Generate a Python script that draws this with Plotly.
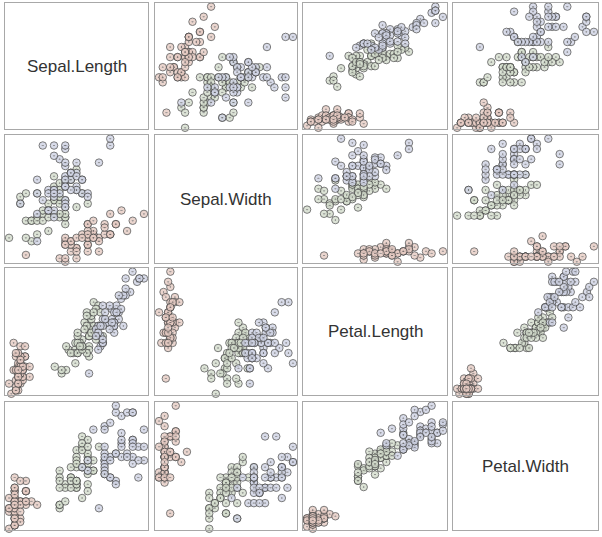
import plotly.graph_objects as go

# iris data
sepal_length = [5.1,4.9,4.7,4.6,5.0,5.4,4.6,5.0,4.4,4.9,5.4,4.8,4.8,4.3,5.8,5.7,5.4,5.1,5.7,5.1,
 5.4,5.1,4.6,5.1,4.8,5.0,5.0,5.2,5.2,4.7,4.8,5.4,5.2,5.5,4.9,5.0,5.5,4.9,4.4,5.1,
 5.0,4.5,4.4,5.0,5.1,4.8,5.1,4.6,5.3,5.0,
 7.0,6.4,6.9,5.5,6.5,5.7,6.3,4.9,6.6,5.2,5.0,5.9,6.0,6.1,5.6,6.7,5.6,5.8,6.2,5.6,
 5.9,6.1,6.3,6.1,6.4,6.6,6.8,6.7,6.0,5.7,5.5,5.5,5.8,6.0,5.4,6.0,6.7,6.3,5.6,5.5,
 5.5,6.1,5.8,5.0,5.6,5.7,5.7,6.2,5.1,5.7,
 6.3,5.8,7.1,6.3,6.5,7.6,4.9,7.3,6.7,7.2,6.5,6.4,6.8,5.7,5.8,6.4,6.5,7.7,7.7,6.0,
 6.9,5.6,7.7,6.3,6.7,7.2,6.2,6.1,6.4,7.2,7.4,7.9,6.4,6.3,6.1,7.7,6.3,6.4,6.0,6.9,
 6.7,6.9,5.8,6.8,6.7,6.7,6.3,6.5,6.2,5.9]
sepal_width = [3.5,3.0,3.2,3.1,3.6,3.9,3.4,3.4,2.9,3.1,3.7,3.4,3.0,3.0,4.0,4.4,3.9,3.5,3.8,3.8,
 3.4,3.7,3.6,3.3,3.4,3.0,3.4,3.5,3.4,3.2,3.1,3.4,4.1,4.2,3.1,3.2,3.5,3.6,3.0,3.4,
 3.5,2.3,3.2,3.5,3.8,3.0,3.8,3.2,3.7,3.3,
 3.2,3.2,3.1,2.3,2.8,2.8,3.3,2.4,2.9,2.7,2.0,3.0,2.2,2.9,2.9,3.1,3.0,2.7,2.2,2.5,
 3.2,2.8,2.5,2.8,2.9,3.0,2.8,3.0,2.9,2.6,2.4,2.4,2.7,2.7,3.0,3.4,3.1,2.3,3.0,2.5,
 2.6,3.0,2.6,2.3,2.7,3.0,2.9,2.9,2.5,2.8,
 3.3,2.7,3.0,2.9,3.0,3.0,2.5,2.9,2.5,3.6,3.2,2.7,3.0,2.5,2.8,3.2,3.0,3.8,2.6,2.2,
 3.2,2.8,2.8,2.7,3.3,3.2,2.8,3.0,2.8,3.0,2.8,3.8,2.8,2.8,2.6,3.0,3.4,3.1,3.0,3.1,
 3.1,3.1,2.7,3.2,3.3,3.0,2.5,3.0,3.4,3.0]
petal_length = [1.4,1.4,1.3,1.5,1.4,1.7,1.4,1.5,1.4,1.5,1.5,1.6,1.4,1.1,1.2,1.5,1.3,1.4,1.7,1.5,
 1.7,1.5,1.0,1.7,1.9,1.6,1.6,1.5,1.4,1.6,1.6,1.5,1.5,1.4,1.5,1.2,1.3,1.4,1.3,1.5,
 1.3,1.3,1.3,1.6,1.9,1.4,1.6,1.4,1.5,1.4,
 4.7,4.5,4.9,4.0,4.6,4.5,4.7,3.3,4.6,3.9,3.5,4.2,4.0,4.7,3.6,4.4,4.5,4.1,4.5,3.9,
 4.8,4.0,4.9,4.7,4.3,4.4,4.8,5.0,4.5,3.5,3.8,3.7,3.9,5.1,4.5,4.5,4.7,4.4,4.1,4.0,
 4.4,4.6,4.0,3.3,4.2,4.2,4.2,4.3,3.0,4.1,
 6.0,5.1,5.9,5.6,5.8,6.6,4.5,6.3,5.8,6.1,5.1,5.3,5.5,5.0,5.1,5.3,5.5,6.7,6.9,5.0,
 5.7,4.9,6.7,4.9,5.7,6.0,4.8,4.9,5.6,5.8,6.1,6.4,5.6,5.1,5.6,6.1,5.6,5.5,4.8,5.4,
 5.6,5.1,5.1,5.9,5.7,5.2,5.0,5.2,5.4,5.1]
petal_width = [0.2,0.2,0.2,0.2,0.2,0.4,0.3,0.2,0.2,0.1,0.2,0.2,0.1,0.1,0.2,0.4,0.4,0.3,0.3,0.3,
 0.2,0.4,0.2,0.5,0.2,0.2,0.4,0.2,0.2,0.2,0.2,0.4,0.1,0.2,0.2,0.2,0.2,0.1,0.2,0.2,
 0.3,0.3,0.2,0.6,0.4,0.3,0.2,0.2,0.2,0.2,
 1.4,1.5,1.5,1.3,1.5,1.3,1.6,1.0,1.3,1.4,1.0,1.5,1.0,1.4,1.3,1.4,1.5,1.0,1.5,1.1,
 1.8,1.3,1.5,1.2,1.3,1.4,1.4,1.7,1.5,1.0,1.1,1.0,1.2,1.6,1.5,1.6,1.5,1.3,1.3,1.3,
 1.2,1.4,1.2,1.0,1.3,1.2,1.3,1.3,1.1,1.3,
 2.5,1.9,2.1,1.8,2.2,2.1,1.7,1.8,1.8,2.5,2.0,1.9,2.1,2.0,2.4,2.3,1.8,2.2,2.3,1.5,
 2.3,2.0,2.0,1.8,2.1,1.8,1.8,1.8,2.1,1.6,1.9,2.0,2.2,1.5,1.4,2.3,2.4,1.8,1.8,2.1,
 2.4,2.3,1.9,2.3,2.5,2.3,1.9,2.0,2.3,1.8]
species = ["setosa"] * 50 + ["versicolor"] * 50 + ["virginica"] * 50

var_names = ["Sepal.Length", "Sepal.Width", "Petal.Length", "Petal.Width"]
var_data = [sepal_length, sepal_width, petal_length, petal_width]
species_colors = {"setosa": "#e6cbc3", "versicolor": "#d4ddcd", "virginica": "#cfd3e4"}

W, H = 602, 537
col_px = [(5, 148), (155, 297), (303, 447), (453, 598)]
row_px = [(3, 129), (135, 263), (268, 395), (402, 530)]

fig = go.Figure()
layout = dict(width=W, height=H, margin=dict(l=0, r=0, t=0, b=0),
              paper_bgcolor="white", plot_bgcolor="white", showlegend=False)
annotations = []

def rng(v, lo_pad=0.03, hi_pad=0.03):
    mn, mx = min(v), max(v)
    s = mx - mn
    return [mn - lo_pad * s, mx + hi_pad * s]

marker_colors = [species_colors[s] for s in species]

k = 0
for i in range(4):
    for j in range(4):
        k += 1
        xa = "xaxis" if k == 1 else f"xaxis{k}"
        ya = "yaxis" if k == 1 else f"yaxis{k}"
        xref = "x" if k == 1 else f"x{k}"
        yref = "y" if k == 1 else f"y{k}"
        x0, x1 = col_px[j]
        y0, y1 = row_px[i]
        common = dict(showticklabels=False, showgrid=False, zeroline=False,
                      showline=True, mirror=True, linecolor="#a8a8a8", linewidth=1,
                      ticks="", fixedrange=True)
        if i == j:
            layout[xa] = dict(domain=[x0 / W, x1 / W], anchor=yref, range=[0, 1], **common)
            layout[ya] = dict(domain=[1 - y1 / H, 1 - y0 / H], anchor=xref, range=[0, 1], **common)
            fig.add_trace(go.Scatter(x=[0.5], y=[0.5], mode="markers",
                                     marker=dict(opacity=0), xaxis=xref, yaxis=yref,
                                     hoverinfo="skip"))
            annotations.append(dict(text=var_names[i], x=0.5, y=0.5,
                                    xref=f"{xref} domain", yref=f"{yref} domain",
                                    showarrow=False,
                                    font=dict(family="Liberation Sans, Arial", size=17, color="#333333")))
        else:
            xv = var_data[i]
            yv = var_data[j]
            layout[xa] = dict(domain=[x0 / W, x1 / W], anchor=yref, range=rng(xv), **common)
            layout[ya] = dict(domain=[1 - y1 / H, 1 - y0 / H], anchor=xref, range=rng(yv, 0.01, 0.03), **common)
            fig.add_trace(go.Scatter(
                x=xv, y=yv, mode="markers", xaxis=xref, yaxis=yref,
                marker=dict(symbol="circle-dot", size=7.5, color=marker_colors, opacity=0.8,
                            line=dict(color="#4a4a4a", width=0.9)),
                cliponaxis=False))

layout["annotations"] = annotations
fig.update_layout(**layout)
fig.write_html("out.html")
